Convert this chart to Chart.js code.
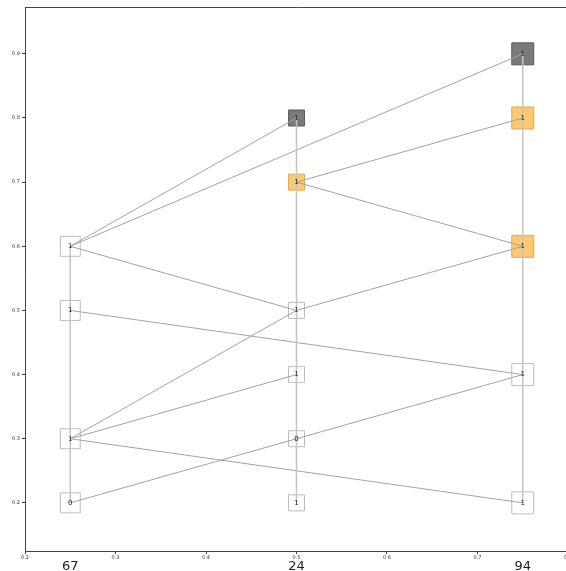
<!DOCTYPE html>
<html>
<head>
<meta charset="utf-8">
<script src="https://cdn.jsdelivr.net/npm/chart.js@4"></script>
<style>
  html, body { margin: 0; padding: 0; background: #fff; overflow: hidden; }
  canvas { display: block; }
</style>
</head>
<body>
<canvas id="c" width="570" height="571"></canvas>
<script>
// columns of the layered graph
const columnX = [0.25, 0.5, 0.75]
const columnLabels = ['67', '24', '94']

// nodes: column index, y position, printed value, mark kind
const nodeCol = [0, 0, 0, 0, 1, 1, 1, 1, 1, 1, 2, 2, 2, 2, 2]
const nodeY = [0.6, 0.5, 0.3, 0.2, 0.8, 0.7, 0.5, 0.4, 0.3, 0.2, 0.9, 0.8, 0.6, 0.4, 0.2]
const nodeText = ['1', '1', '1', '0', '1', '1', '1', '1', '0', '1', '1', '1', '1', '1', '1']
const nodeKind = ['plain', 'plain', 'plain', 'plain', 'dark', 'light', 'plain', 'plain', 'plain', 'plain', 'dark', 'light', 'light', 'plain', 'plain']

// edges between nodes (indices into the node arrays)
const edgeFrom = [0, 0, 0, 1, 2, 2, 2, 3, 5, 5, 6, 8]
const edgeTo = [4, 10, 6, 13, 6, 7, 14, 8, 11, 12, 12, 13]

const xTicks = [0.2, 0.3, 0.4, 0.5, 0.6, 0.7, 0.8]
const yTicks = [0.2, 0.3, 0.4, 0.5, 0.6, 0.7, 0.8, 0.9]

// styling
const boxSide = [20, 16, 22]
const fillFor = { plain: '#ffffff', light: '#fdc96f', dark: '#7a7a7a' }
const strokeFor = { plain: '#bdbdbd', light: '#d9ab5c', dark: '#5c5c5c' }

const pt = (i) => ({ x: columnX[nodeCol[i]], y: nodeY[i] })

const datasets = []

// vertical column spines
columnX.forEach((cx, c) => {
  const ys = nodeY.filter((_, i) => nodeCol[i] === c)
  datasets.push({
    data: [{ x: cx, y: Math.min(...ys) }, { x: cx, y: Math.max(...ys) }],
    showLine: true,
    borderColor: '#c4c4c4',
    borderWidth: 1.5,
    pointRadius: 0,
    order: 1,
  })
})

edgeFrom.forEach((f, k) => {
  datasets.push({
    data: [pt(f), pt(edgeTo[k])],
    showLine: true,
    borderColor: '#a3a3a3',
    borderWidth: 1,
    pointRadius: 0,
    order: 1,
  })
})

datasets.push({
  data: nodeY.map((_, i) => pt(i)),
  pointStyle: 'rect',
  pointRadius: nodeCol.map((c) => boxSide[c] / Math.SQRT2),
  backgroundColor: nodeKind.map((k) => fillFor[k]),
  borderColor: nodeKind.map((k) => strokeFor[k]),
  borderWidth: 1,
  order: 2,
})

const overlay = {
  id: 'overlay',
  afterDatasetsDraw(chart) {
    const { ctx, chartArea, scales } = chart
    ctx.save()
    ctx.fillStyle = '#222'
    ctx.font = '7px "DejaVu Sans"'
    ctx.textAlign = 'center'
    ctx.textBaseline = 'middle'
    nodeText.forEach((t, i) => {
      ctx.fillText(t, scales.x.getPixelForValue(columnX[nodeCol[i]]), scales.y.getPixelForValue(nodeY[i]))
    })
    ctx.strokeStyle = '#444'
    ctx.lineWidth = 1
    ctx.beginPath()
    ctx.moveTo(chartArea.left, chartArea.top + 0.5)
    ctx.lineTo(chartArea.right, chartArea.top + 0.5)
    ctx.lineTo(chartArea.right - 0.5, chartArea.bottom)
    ctx.stroke()
    ctx.font = '13px "DejaVu Sans"'
    ctx.fillStyle = '#222'
    ctx.textBaseline = 'alphabetic'
    columnLabels.forEach((l, c) => {
      ctx.fillText(l, scales.x.getPixelForValue(columnX[c]), 570)
    })
    ctx.restore()
  },
}

new Chart(document.getElementById('c'), {
  type: 'scatter',
  data: { datasets },
  options: {
    responsive: false,
    animation: false,
    events: [],
    layout: { autoPadding: false, padding: { top: 7, right: 2, left: 0, bottom: 0 } },
    plugins: { legend: { display: false }, tooltip: { enabled: false } },
    scales: {
      x: {
        min: 0.2,
        max: 0.8,
        afterBuildTicks: (a) => { a.ticks = xTicks.map((v) => ({ value: v })) },
        afterFit: (a) => { a.height = 20; a.paddingLeft = 0; a.paddingRight = 0 },
        ticks: { font: { size: 5, family: 'DejaVu Sans' }, color: '#333', padding: 1, maxRotation: 0, callback: (v) => v.toFixed(1) },
        grid: { drawOnChartArea: false, drawTicks: true, tickLength: 3, color: '#444' },
        border: { display: true, color: '#444', width: 1 },
      },
      y: {
        min: 0.125,
        max: 0.973,
        afterBuildTicks: (a) => { a.ticks = yTicks.map((v) => ({ value: v })) },
        afterFit: (a) => { a.width = 25; a.paddingTop = 0; a.paddingBottom = 0 },
        ticks: { font: { size: 5, family: 'DejaVu Sans' }, color: '#333', padding: 2, callback: (v) => v.toFixed(1) },
        grid: { drawOnChartArea: false, drawTicks: true, tickLength: 3, color: '#444' },
        border: { display: true, color: '#444', width: 1 },
      },
    },
  },
  plugins: [overlay],
})
</script>
</body>
</html>
